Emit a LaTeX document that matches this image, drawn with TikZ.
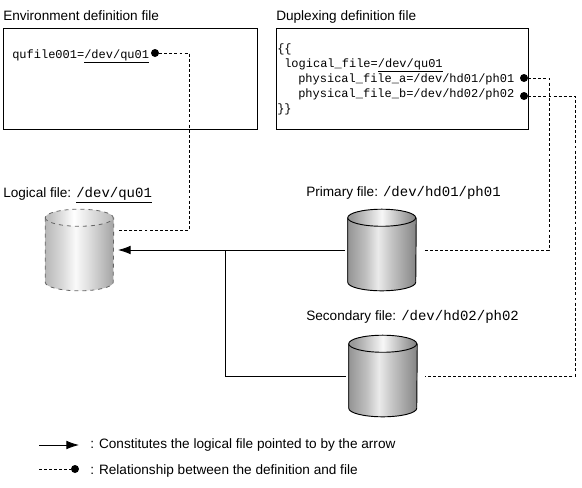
\documentclass[tikz,border=0pt]{standalone}
\usepackage{fontspec}
\setmainfont{Liberation Sans}
\setmonofont{Liberation Mono}
\usetikzlibrary{arrows.meta}
\pgfdeclarehorizontalshading{solidbody}{100bp}{color(0bp)=(black!45);color(25bp)=(black!42);color(38bp)=(black!25);color(47bp)=(black!8);color(56bp)=(black!22);color(75bp)=(black!48);color(100bp)=(black!48)}
\pgfdeclarehorizontalshading{solidtop}{100bp}{color(0bp)=(black!40);color(28bp)=(black!40);color(50bp)=(black!3);color(75bp)=(black!50);color(100bp)=(black!50)}
\pgfdeclarehorizontalshading{dashbody}{100bp}{color(0bp)=(black!28);color(25bp)=(black!28);color(38bp)=(black!14);color(47bp)=(black!2);color(56bp)=(black!12);color(75bp)=(black!36);color(100bp)=(black!36)}
\pgfdeclarehorizontalshading{dashtop}{100bp}{color(0bp)=(black!25);color(28bp)=(black!25);color(46bp)=(white);color(75bp)=(black!28);color(100bp)=(black!28)}
\tikzset{
 filecyl/.style={inner sep=0,minimum width=51,minimum height=48},
 dashcyl/.style={draw=black!60,dashed,line width=.6pt},
 solidcyl/.style={draw=black,line width=.7pt},
 dotnode/.style={circle,fill=black,inner sep=0,minimum size=6},
 relline/.style={dash pattern=on 2.2pt off 1.6pt,line width=.6pt},
 packline/.style={line width=.65pt},
 packarrow/.style={packline,-{Latex[length=9.5pt,width=6.5pt]}},
 deffile/.style={draw,line width=.65pt,minimum height=75.75,inner sep=0,anchor=north west},
 txt/.style={anchor=base west,inner sep=0,font=\fontsize{10.2}{11}\selectfont},
 code/.style={anchor=base west,inner sep=0,font=\ttfamily\fontsize{9}{11}\selectfont},
}
\newcommand{\pth}[1]{{\ttfamily\fontsize{10.5}{11}\selectfont #1}}
\begin{document}
\begin{tikzpicture}[x=.75pt,y=-.75pt,>=Latex]
\useasboundingbox (0,0) rectangle (582,487);
% definition files
\node[txt] (envtitle) at (3,20) {Environment definition file};
\node[txt] (duptitle) at (276,20) {Duplexing definition file};
\node[deffile,minimum width=190.5] (envbox) at (3,28) {};
\node[deffile,minimum width=189] (dupbox) at (276,28) {};
\node[code] (qufile) at (12,58) {qufile001=\underline{/dev/qu01}};
\node[code] (open) at (277,52) {\{\{};
\node[code] (logline) at (284,67) {logical\_file=\underline{/dev/qu01}};
\node[code] (phya) at (298,82) {physical\_file\_a=/dev/hd01/ph01};
\node[code] (phyb) at (298,97) {physical\_file\_b=/dev/hd02/ph02};
\node[code] (close) at (277,112) {\}\}};
\node[dotnode] (qudot) at (155,53) {};
\node[dotnode] (adot) at (524,78) {};
\node[dotnode] (bdot) at (524,96) {};
% files
\node[txt] (loglabel) at (3,197) {Logical file: \underline{\pth{/dev/qu01}}};
\node[txt] (prilabel) at (306,196) {Primary file: \pth{/dev/hd01/ph01}};
\node[txt] (seclabel) at (306,320) {Secondary file: \pth{/dev/hd02/ph02}};
\node[filecyl] (logical) at (79.5,250) {};
\node[filecyl] (primary) at (382,250) {};
\node[filecyl] (secondary) at (383,376) {};
\foreach \c/\s/\b/\t in {logical/dashcyl/dashbody/dashtop,primary/solidcyl/solidbody/solidtop,secondary/solidcyl/solidbody/solidtop}{
 \path[shading=\b,\s] (\c.north west) -- (\c.south west) arc[start angle=180,end angle=360,x radius=25.5pt,y radius=6.4pt] -- (\c.north east);
 \path[shading=\t,\s] (\c.north west) arc[start angle=180,end angle=540,x radius=25.5pt,y radius=6.4pt];
}
% connectors
\coordinate (logdot) at (118,230);
\coordinate (logdotbend) at (189,230);
\coordinate (pridot) at (423,250);
\coordinate (pridotbend) at (549,250);
\coordinate (secdot) at (425,376);
\coordinate (secdotbend) at (575,376);
\coordinate (logarrow) at (118,250);
\coordinate (priout) at (345,250);
\coordinate (secout) at (346,376);
\coordinate (join) at (225,250);
\draw[relline] (qudot) -| (logdotbend) -- (logdot);
\draw[relline] (adot) -| (pridotbend) -- (pridot);
\draw[relline] (bdot) -| (secdotbend) -- (secdot);
\draw[packarrow] (priout) -- (logarrow);
\draw[packline] (secout) -| (join);
% legend
\coordinate (keya) at (39,445);
\coordinate (keyb) at (79,445);
\coordinate (keyc) at (39,469);
\node[dotnode] (keydot) at (75,469) {};
\draw[packarrow] (keya) -- (keyb);
\draw[relline] (keyc) -- (keydot);
\node[txt] (keyatext) at (90,448) {: Constitutes the logical file pointed to by the arrow};
\node[txt] (keybtext) at (90,474) {: Relationship between the definition and file};
\end{tikzpicture}
\end{document}
